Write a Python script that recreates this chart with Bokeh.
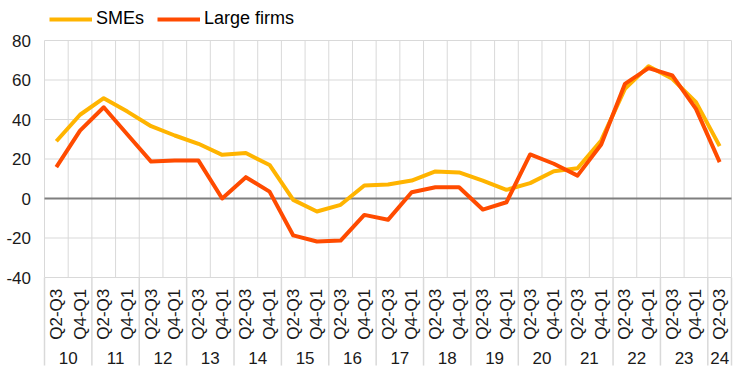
from bokeh.plotting import figure
from bokeh.models import Range1d, Legend, LegendItem
from bokeh.core.properties import value
from bokeh.embed import file_html
from bokeh.resources import INLINE
import math

# ---- data ----
years = ["10", "11", "12", "13", "14", "15", "16", "17", "18", "19", "20", "21", "22", "23", "24"]
quarters = ["Q2-Q3", "Q4-Q1"]
periods_per_year = [2] * 14 + [1]

smes = [29.0, 42.4, 50.8, 44.0, 36.6, 31.9, 27.7, 22.1, 23.0, 17.0,
        -0.7, -6.6, -3.2, 6.6, 7.1, 9.1, 13.7, 13.2, 9.1, 4.4,
        7.8, 13.8, 15.3, 29.4, 55.5, 67.0, 60.6, 48.8, 26.5]
large_firms = [15.9, 34.4, 46.2, 32.4, 18.7, 19.2, 19.2, 0.0, 10.8, 3.5,
               -18.7, -21.8, -21.3, -8.3, -10.8, 3.2, 5.7, 5.7, -5.6, -1.9,
               22.3, 17.6, 11.6, 27.3, 58.0, 66.0, 62.3, 45.4, 18.4]

y_ticks = [-40, -20, 0, 20, 40, 60, 80]

# ---- derived categorical layout ----
q_labels = []
group_bounds = [0]
group_centers = []
for y, n in zip(years, periods_per_year):
    start = len(q_labels)
    q_labels += quarters[:n]
    group_centers.append(start + n / 2)
    group_bounds.append(len(q_labels))
n_cat = len(q_labels)
xs = [i + 0.5 for i in range(n_cat)]

FONT = "Liberation Sans"
GRID = "#d9d9d9"
TXT = "#1a1a1a"
W, H = 744, 369
YMIN, YMAX = y_ticks[0], y_ticks[-1]

# screen layout of the plotting area (pixels)
LEFT, RIGHT, TOP_Y, BOT_Y = 44.0, 731.0, 40.0, 277.0
sx = (RIGHT - LEFT) / n_cat
sy = (BOT_Y - TOP_Y) / (YMAX - YMIN)
x_start = -LEFT / sx
x_end = n_cat + (W - RIGHT) / sx
y_end = YMAX + TOP_Y / sy
y_start = YMIN - (H - BOT_Y) / sy

p = figure(width=W, height=H, output_backend="svg", toolbar_location=None,
           x_range=Range1d(x_start, x_end), y_range=Range1d(y_start, y_end),
           min_border_left=0, min_border_right=0, min_border_top=0, min_border_bottom=0)
p.outline_line_color = None
p.xaxis.visible = False
p.yaxis.visible = False
p.grid.visible = False

# horizontal gridlines
hg = [t for t in y_ticks if t != 0]
p.segment(x0=[0] * len(hg), y0=hg, x1=[n_cat] * len(hg), y1=hg, line_color=GRID, line_width=1)
# vertical gridlines at category boundaries (plot area)
bounds = list(range(n_cat + 1))
p.segment(x0=bounds, y0=[YMIN] * len(bounds), x1=bounds, y1=[YMAX] * len(bounds),
          line_color=GRID, line_width=1)
# group separators in the label area
p.segment(x0=group_bounds, y0=[YMIN] * len(group_bounds), x1=group_bounds,
          y1=[y_start + 2] * len(group_bounds), line_color=GRID, line_width=1.5)
# zero line
p.segment(x0=[0], y0=[0], x1=[n_cat], y1=[0], line_color="#7f7f7f", line_width=2)

# y tick labels
p.text(x=[-13.5 / sx] * len(y_ticks), y=y_ticks, text=[str(t) for t in y_ticks],
       text_align="right", text_baseline="middle",
       text_font=value(FONT), text_font_size="17px", text_color=TXT)

# category labels
p.text(x=xs, y=[-58.6] * n_cat, text=q_labels, angle=math.pi / 2,
       text_align="center", text_baseline="middle",
       text_font=value(FONT), text_font_size="17px", text_color=TXT)
p.text(x=group_centers, y=[-80.7] * len(years), text=years,
       text_align="center", text_baseline="middle",
       text_font=value(FONT), text_font_size="17px", text_color=TXT)

r1 = p.line(xs, smes, line_color="#FFB400", line_width=4, line_join="round")
r2 = p.line(xs, large_firms, line_color="#FF4B00", line_width=4, line_join="round")

legend = Legend(items=[LegendItem(label="SMEs", renderers=[r1]),
                       LegendItem(label="Large firms", renderers=[r2])],
                orientation="horizontal", location=(49, H - 29))
legend.label_text_font = FONT
legend.label_text_font_size = "18px"
legend.label_text_color = "#000000"
legend.glyph_width = 43
legend.glyph_height = 18
legend.label_standoff = 4
legend.spacing = 13
legend.padding = 0
legend.margin = 0
legend.border_line_color = None
legend.background_fill_alpha = 0
p.add_layout(legend)

open("out.html", "w").write(file_html(p, INLINE))
